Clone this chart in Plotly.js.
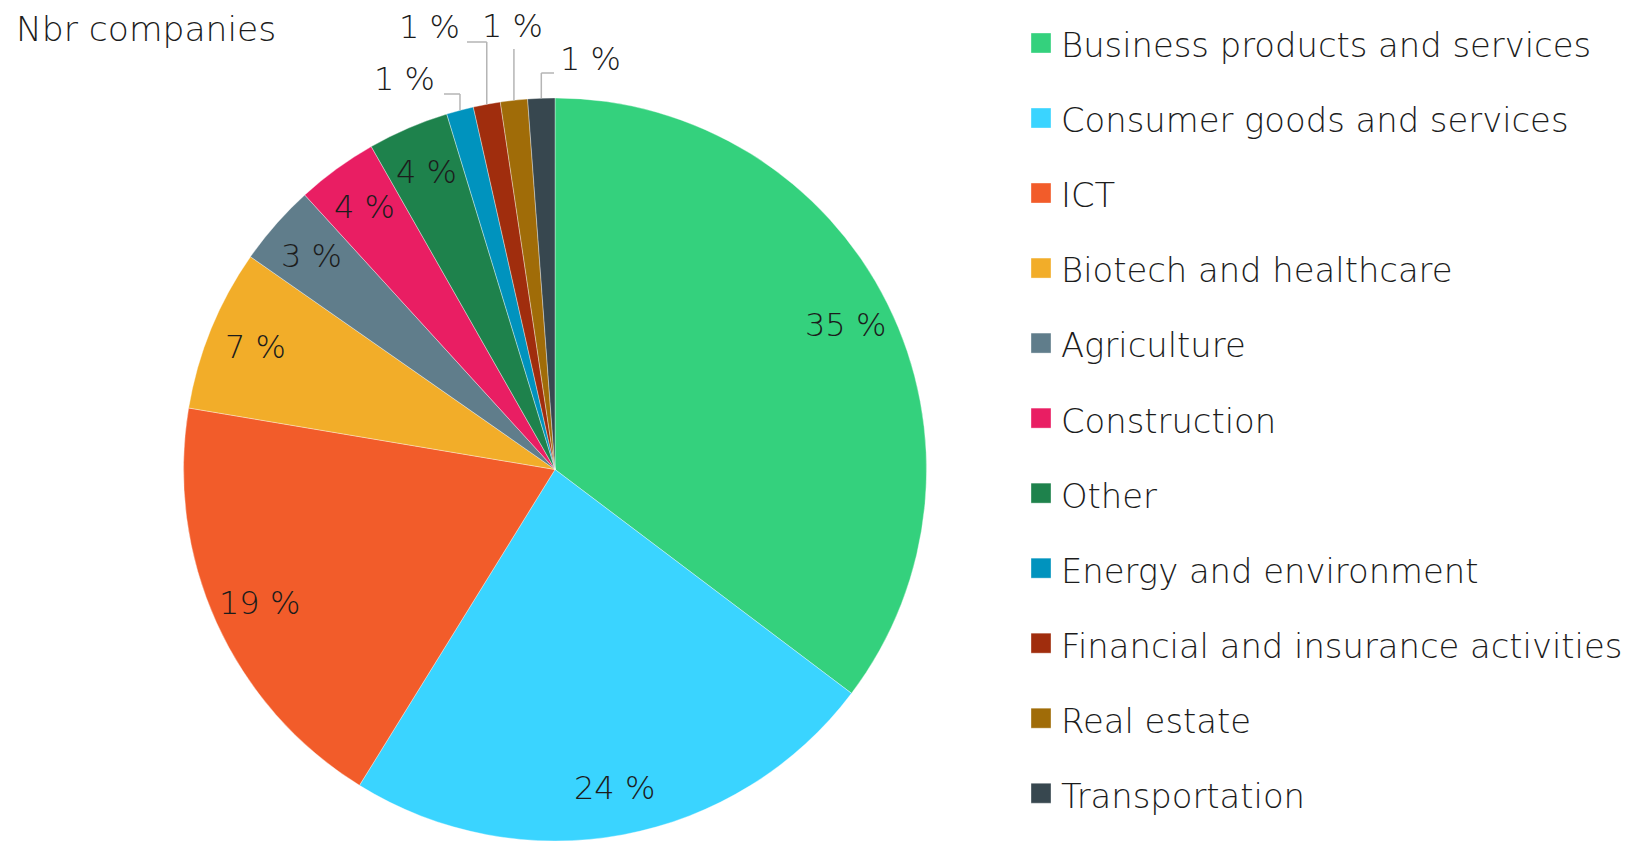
<!DOCTYPE html>
<html>
<head>
<meta charset="utf-8">
<script src="https://cdn.plot.ly/plotly-3.0.1.min.js"></script>
<style>html,body{margin:0;padding:0;background:#fff;}#chart{width:1631px;height:841px;}</style>
</head>
<body>
<div id="chart"></div>
<script>
// ---- data ----
var categories = ["Business products and services", "Consumer goods and services", "ICT", "Biotech and healthcare", "Agriculture", "Construction", "Other", "Energy and environment", "Financial and insurance activities", "Real estate", "Transportation"];
var companies = [30, 20, 16, 6, 3, 3, 3, 1, 1, 1, 1];
var pctLabels = ["35 %", "24 %", "19 %", "7 %", "3 %", "4 %", "4 %", "1 %", "1 %", "1 %", "1 %"];
var colors = ["#34D17D", "#3AD4FF", "#F25C2A", "#F2AD29", "#607D8B", "#E91E63", "#1E824C", "#0093BE", "#A02D0D", "#A06C08", "#37474F"];

// ---- layout constants ----
var W = 1631, H = 841;
var FONT = "'DejaVu Sans', 'Open Sans', sans-serif";
var WEIGHT = 200;
var TXT = "#1c1c1c";
var domain = { x: [0.1122, 0.5684], y: [0, 0.8835] };
var insideR = 0.872;
// outside labels for small slices: anchor point (px), anchor side, connector start (px)
var outside = {
  7: { x: 437, y: 79, anchor: "right", sx: 444, sy: 94 },
  8: { x: 462, y: 27, anchor: "right", sx: 467, sy: 42 },
  9: { x: 512, y: 26, anchor: "center", sx: null, sy: 49 },
  10: { x: 558, y: 59, anchor: "left", sx: 554, sy: 73 }
};

var legendLabels = categories.map(function (c) {
  return "\u00a0<br>\u00a0<br><span style=\"font-size:33.8px\">" + c + "</span><br>\u00a0";
});

var trace = {
  type: "pie",
  labels: legendLabels,
  values: companies,
  textinfo: "none",
  sort: false,
  direction: "clockwise",
  rotation: 0,
  marker: { colors: colors, line: { color: "rgba(255,255,255,0.6)", width: 0.6 } },
  domain: domain,
  hoverinfo: "none"
};

// geometry of the pie from its domain
var cx = (domain.x[0] + domain.x[1]) / 2 * W;
var cy = H - (domain.y[0] + domain.y[1]) / 2 * H;
var R = Math.min((domain.x[1] - domain.x[0]) * W, (domain.y[1] - domain.y[0]) * H) / 2;
var total = companies.reduce(function (a, b) { return a + b; }, 0);

var annotations = [], shapes = [];
var cum = 0;
companies.forEach(function (v, i) {
  var mid = (cum + v / 2) / total * 2 * Math.PI;
  cum += v;
  var sn = Math.sin(mid), cs = Math.cos(mid);
  var f = { family: FONT, size: 32, color: TXT, weight: WEIGHT };
  if (!outside[i]) {
    var px = cx + insideR * R * sn, py = cy - insideR * R * cs;
    annotations.push({
      x: px / W, y: 1 - py / H, xref: "paper", yref: "paper",
      text: pctLabels[i], showarrow: false, xanchor: "center", yanchor: "middle", font: f
    });
  } else {
    var o = outside[i];
    var ex = cx + R * sn, ey = cy - R * cs;
    annotations.push({
      x: o.x / W, y: 1 - o.y / H, xref: "paper", yref: "paper",
      text: pctLabels[i], showarrow: false, xanchor: o.anchor, yanchor: "middle", font: f
    });
    var lineStyle = { color: "#b5b5b5", width: 1.5 };
    if (o.sx !== null) {
      shapes.push({ type: "line", xref: "paper", yref: "paper", x0: o.sx / W, y0: 1 - o.sy / H, x1: ex / W, y1: 1 - o.sy / H, line: lineStyle });
    }
    shapes.push({ type: "line", xref: "paper", yref: "paper", x0: ex / W, y0: 1 - o.sy / H, x1: ex / W, y1: 1 - ey / H, line: lineStyle });
  }
});

var layout = {
  width: W,
  height: H,
  margin: { l: 0, r: 0, t: 0, b: 0 },
  paper_bgcolor: "#fff",
  plot_bgcolor: "#fff",
  font: { family: FONT, color: TXT, weight: WEIGHT },
  title: {
    text: "Nbr companies",
    font: { family: FONT, size: 34.5, color: TXT, weight: WEIGHT },
    x: 16 / W, xref: "container", xanchor: "left",
    y: 1 - 29 / H, yref: "container", yanchor: "middle"
  },
  showlegend: true,
  legend: {
    x: 1021 / W, xref: "paper", xanchor: "left",
    y: 1 - 0.5 / H, yref: "paper", yanchor: "top",
    font: { family: FONT, size: 13.85, color: TXT, weight: WEIGHT },
    traceorder: "normal",
    bgcolor: "rgba(0,0,0,0)"
  },
  annotations: annotations,
  shapes: shapes
};

Plotly.newPlot("chart", [trace], layout, { staticPlot: true }).then(function () {
  var pts = document.querySelectorAll(".legendpoints path");
  pts.forEach(function (p) { p.setAttribute("d", "M10,10H-10V-10H10Z"); });
});
</script>
</body>
</html>
